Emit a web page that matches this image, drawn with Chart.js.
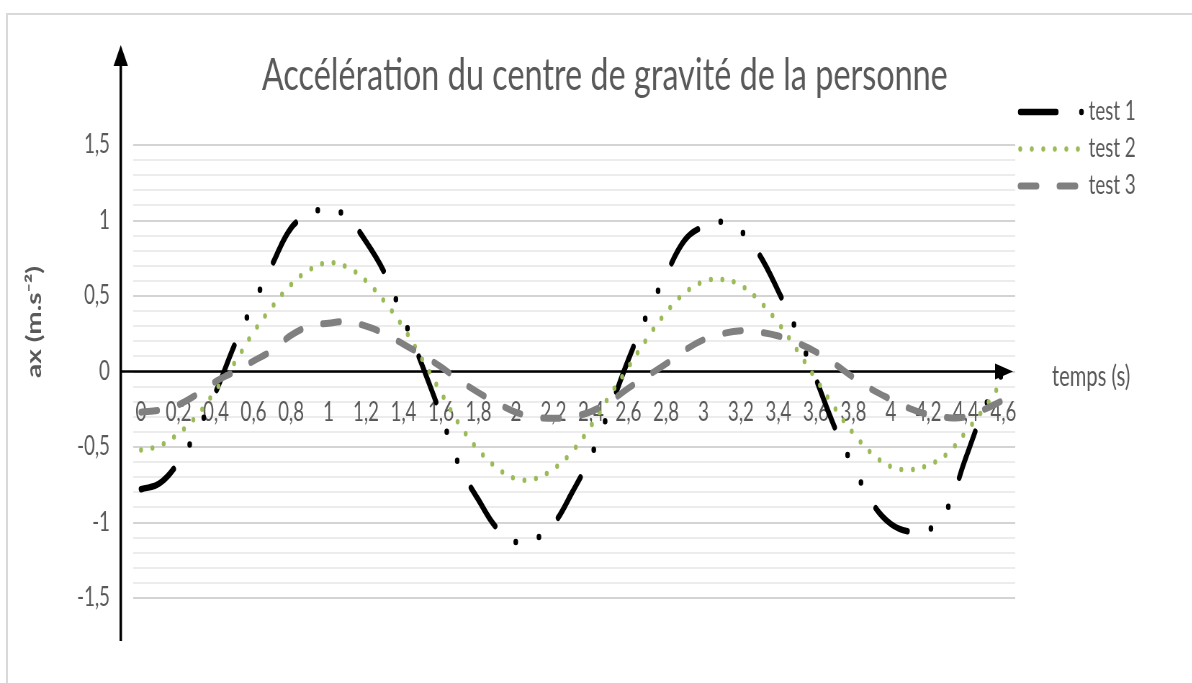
<!DOCTYPE html>
<html>
<head>
<meta charset="utf-8">
<script src="https://cdn.jsdelivr.net/npm/chart.js@4.4.1/dist/chart.umd.min.js"></script>
<style>
  html, body { margin: 0; padding: 0; background: #fff; overflow: hidden; }
  body { width: 1192px; height: 683px; position: relative; }
  .frame { position: absolute; left: 6px; top: 13px; width: 1300px; height: 800px; border: 2px solid #d9d9d9; }
  /* the reference is horizontally squeezed, so draw wide and squeeze */
  .squeeze { position: absolute; left: 0; top: 0; width: 1680px; height: 683px; transform: scaleX(0.72); transform-origin: 0 0; }
</style>
</head>
<body>
<div class="frame"></div>
<div class="squeeze"><canvas id="chart"></canvas></div>
<script>
const time = [0, 0.1, 0.2, 0.3, 0.4, 0.5, 0.6, 0.7, 0.8, 0.9,
  1, 1.1, 1.2, 1.3, 1.4, 1.5, 1.6, 1.7, 1.8, 1.9,
  2, 2.1, 2.2, 2.3, 2.4, 2.5, 2.6, 2.7, 2.8, 2.9,
  3, 3.1, 3.2, 3.3, 3.4, 3.5, 3.6, 3.7, 3.8, 3.9,
  4, 4.1, 4.2, 4.3, 4.4, 4.5, 4.6];

const test1 = [-0.78, -0.74, -0.60, -0.39, -0.13, 0.18, 0.45, 0.71, 0.95, 1.04,
  1.08, 1.02, 0.86, 0.65, 0.35, 0.04, -0.29, -0.63, -0.85, -1.04,
  -1.13, -1.11, -1.01, -0.80, -0.56, -0.25, 0.08, 0.38, 0.64, 0.87,
  0.96, 0.99, 0.93, 0.77, 0.53, 0.26, -0.05, -0.37, -0.63, -0.87,
  -1.01, -1.06, -1.05, -0.91, -0.57, -0.24, 0.0];

const test2 = [-0.52, -0.49, -0.41, -0.29, -0.12, 0.06, 0.26, 0.43, 0.575, 0.675,
  0.72, 0.69, 0.60, 0.46, 0.29, 0.08, -0.14, -0.355, -0.52, -0.64,
  -0.71, -0.71, -0.645, -0.53, -0.36, -0.16, 0.03, 0.22, 0.39, 0.52,
  0.595, 0.61, 0.57, 0.465, 0.32, 0.14, -0.05, -0.24, -0.41, -0.545,
  -0.63, -0.65, -0.62, -0.545, -0.40, -0.24, -0.05];

const test3 = [-0.27, -0.255, -0.22, -0.15, -0.065, 0.0, 0.07, 0.14, 0.24, 0.30,
  0.32, 0.33, 0.30, 0.25, 0.18, 0.11, 0.03, -0.06, -0.14, -0.21,
  -0.27, -0.30, -0.31, -0.30, -0.265, -0.20, -0.11, -0.03, 0.05, 0.14,
  0.21, 0.25, 0.27, 0.26, 0.235, 0.19, 0.13, 0.05, -0.04, -0.12,
  -0.185, -0.245, -0.285, -0.305, -0.30, -0.25, -0.19];

const xTicks = [0, 0.2, 0.4, 0.6, 0.8, 1, 1.2, 1.4, 1.6, 1.8, 2, 2.2,
  2.4, 2.6, 2.8, 3, 3.2, 3.4, 3.6, 3.8, 4, 4.2, 4.4, 4.6];
const yTicks = [-1.5, -1, -0.5, 0, 0.5, 1, 1.5];

const seriesNames = ['test 1', 'test 2', 'test 3'];
const chartTitle = 'Accélération du centre de gravité de la personne';

const textGrey = '#595959';
const fontStack = "Lato, 'Open Sans', sans-serif";
const fmt = v => String(Math.round(v * 10) / 10).replace('.', ',');
const isMajor = v => yTicks.includes(Math.round(v * 10) / 10);
const pts = arr => time.map((t, i) => ({ x: t, y: arr[i] }));

Chart.defaults.font.family = fontStack;

// axes with arrows, drawn under the series
const axisArrows = {
  id: 'axisArrows',
  beforeDatasetsDraw(chart) {
    const { ctx, chartArea, scales } = chart;
    const y0 = scales.y.getPixelForValue(0);
    const ax = chartArea.left - 17;
    const tip = chartArea.right - 3;
    ctx.save();
    ctx.strokeStyle = '#000';
    ctx.fillStyle = '#000';
    ctx.lineWidth = 2.5;
    ctx.beginPath();
    ctx.moveTo(ax, y0);
    ctx.lineTo(tip - 20, y0);
    ctx.stroke();
    ctx.beginPath();
    ctx.moveTo(tip, y0);
    ctx.lineTo(tip - 25, y0 - 8);
    ctx.lineTo(tip - 25, y0 + 8);
    ctx.closePath();
    ctx.fill();

    ctx.lineWidth = 3.5;
    ctx.beginPath();
    ctx.moveTo(ax, 641);
    ctx.lineTo(ax, 60);
    ctx.stroke();
    ctx.beginPath();
    ctx.moveTo(ax, 45);
    ctx.lineTo(ax - 10, 66);
    ctx.lineTo(ax + 10, 66);
    ctx.closePath();
    ctx.fill();
    ctx.restore();
  }
};

// title, legend and axis names
const labelsPlugin = {
  id: 'labelsPlugin',
  afterDraw(chart) {
    const { ctx } = chart;
    ctx.save();
    ctx.fillStyle = textGrey;
    ctx.textBaseline = 'middle';
    ctx.textAlign = 'center';
    ctx.font = '45px ' + fontStack;
    ctx.fillText(chartTitle, 840, 75);
    ctx.restore();

    chart.data.datasets.forEach((ds, i) => {
      const y = 112 + i * 37;
      ctx.save();
      ctx.strokeStyle = ds.borderColor;
      ctx.lineWidth = ds.borderWidth;
      ctx.lineCap = 'round';
      ctx.setLineDash(ds.legendDash || ds.borderDash);
      ctx.beginPath();
      ctx.moveTo(1417, y);
      ctx.lineTo(1503, y);
      ctx.stroke();
      ctx.setLineDash([]);
      ctx.fillStyle = textGrey;
      ctx.font = '26px ' + fontStack;
      ctx.textBaseline = 'middle';
      ctx.fillText(ds.label, 1512, y);
      ctx.restore();
    });

    ctx.save();
    ctx.fillStyle = textGrey;
    ctx.font = '28px ' + fontStack;
    ctx.textBaseline = 'middle';
    ctx.fillText('temps (s)', 1461, 377);

    ctx.translate(48, 322);
    ctx.rotate(-Math.PI / 2);
    ctx.textAlign = 'center';
    ctx.font = 'bold 28px ' + fontStack;
    ctx.fillText('ax (m.s⁻²)', 0, 0);
    ctx.restore();
  }
};

new Chart(document.getElementById('chart'), {
  type: 'line',
  data: {
    datasets: [
      {
        label: seriesNames[0],
        data: pts(test1),
        borderColor: '#000000',
        borderWidth: 6.5,
        borderDash: [51, 33, 0, 33, 0, 33],
        legendDash: [50, 35, 0, 35],
        borderCapStyle: 'round',
        borderJoinStyle: 'round',
        order: 2
      },
      {
        label: seriesNames[1],
        data: pts(test2),
        borderColor: '#9BBB59',
        borderWidth: 5.5,
        borderDash: [0, 16],
        borderCapStyle: 'round',
        borderJoinStyle: 'round',
        order: 1
      },
      {
        label: seriesNames[2],
        data: pts(test3),
        borderColor: '#808080',
        borderWidth: 7,
        borderDash: [23, 31],
        borderCapStyle: 'round',
        borderJoinStyle: 'round',
        order: 0
      }
    ]
  },
  options: {
    responsive: true,
    maintainAspectRatio: false,
    animation: false,
    events: [],
    elements: {
      point: { radius: 0 },
      line: { tension: 0.4, fill: false }
    },
    layout: {
      padding: { left: 0, right: 270, top: 145, bottom: 85 }
    },
    scales: {
      x: {
        type: 'linear',
        min: -0.043,
        max: 4.663,
        position: { y: 0 },
        grid: { display: false },
        border: { display: false },
        afterBuildTicks: scale => {
          scale.ticks = xTicks.map(v => ({ value: v }));
        },
        ticks: {
          autoSkip: false,
          maxRotation: 0,
          minRotation: 0,
          padding: 18,
          color: textGrey,
          font: { size: 26 },
          callback: v => fmt(v)
        }
      },
      y: {
        min: -1.5,
        max: 1.5,
        afterBuildTicks: scale => {
          const t = [];
          for (let i = -15; i <= 15; i++) t.push({ value: i / 10 });
          scale.ticks = t;
        },
        afterFit: scale => {
          scale.width = 184.7;
        },
        border: { display: false },
        grid: {
          drawTicks: false,
          lineWidth: 2,
          color: c => (c.tick && isMajor(c.tick.value) ? '#d4d4d4' : '#ececec')
        },
        ticks: {
          autoSkip: false,
          padding: 32,
          color: textGrey,
          font: { size: 26 },
          callback: v => (isMajor(v) ? fmt(v) : '')
        }
      }
    },
    plugins: {
      legend: { display: false },
      tooltip: { enabled: false },
      title: { display: false }
    }
  },
  plugins: [axisArrows, labelsPlugin]
});
</script>
</body>
</html>
